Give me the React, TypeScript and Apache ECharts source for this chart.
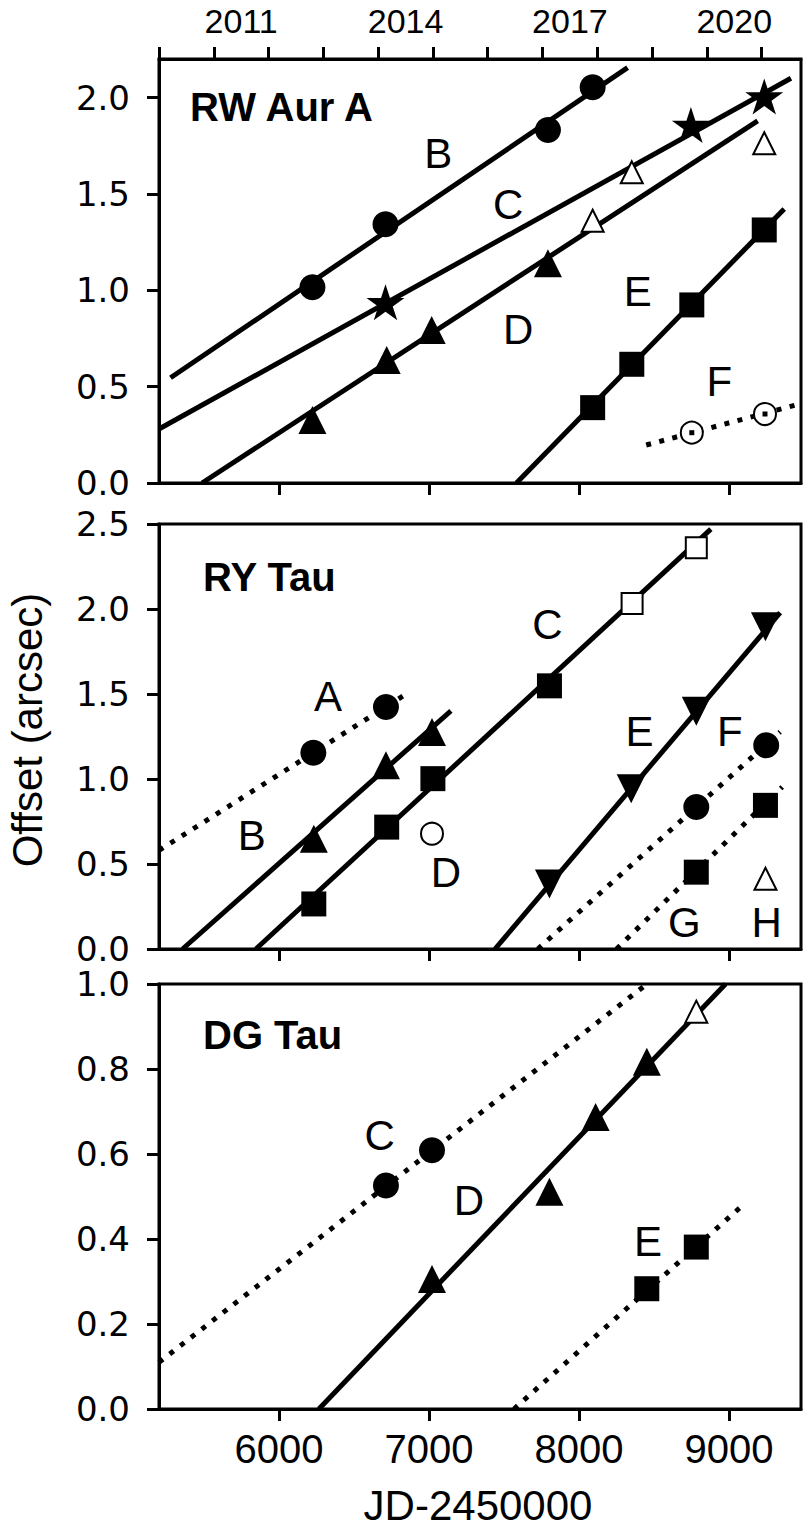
import React, { useEffect, useRef } from "react";
import * as echarts from "echarts";

// ---------- axes ----------
const X_MIN = 5200;
const X_MAX = 9480;
const X_TICKS = [6000, 7000, 8000, 9000];
const YEAR_AT_XMIN = 2010;
const DAYS_PER_YEAR = 365.25;
const YEAR_TICKS = [2010, 2011, 2012, 2013, 2014, 2015, 2016, 2017, 2018, 2019, 2020, 2021];
const YEAR_LABELS = [2011, 2014, 2017, 2020];
const Y_MAX = [2.2, 2.5, 1.0];
const Y_TICKS_1 = [0, 0.5, 1.0, 1.5, 2.0];
const Y_TICKS_2 = [0, 0.5, 1.0, 1.5, 2.0, 2.5];
const Y_TICKS_3 = [0, 0.2, 0.4, 0.6, 0.8, 1.0];
const PANEL_TITLES = ["RW Aur A", "RY Tau", "DG Tau"];

// ---------- RW Aur A ----------
const RW_B_PTS = [[6223, 1.016], [6710, 1.342], [7793, 1.832], [8091, 2.053]];
const RW_B_FIT = [[5277, 0.546], [8324, 2.155]];
const RW_C_PTS = [[6710, 0.938], [8746, 1.858], [9235, 2.005]];
const RW_C_FIT = [[5200, 0.28], [9413, 2.1]];
const RW_OPEN_TRI = [[8091, 1.361], [8352, 1.612], [9235, 1.763]];
const RW_D_PTS = [[6223, 0.327], [6718, 0.638], [7018, 0.794], [7793, 1.14]];
const RW_D_FIT = [[5487, 0], [9191, 1.879]];
const RW_E_PTS = [[8091, 0.391], [8352, 0.616], [8752, 0.924], [9235, 1.313]];
const RW_E_FIT = [[7583, 0], [9368, 1.422]];
const RW_F_PTS = [[8752, 0.261], [9240, 0.358]];
const RW_F_FIT = [[8448, 0.197], [9446, 0.405]];
const RW_LETTERS = [[7062, 1.711, "B"], [7527, 1.443, "C"], [7594, 0.794, "D"], [8392, 0.993, "E"], [8936, 0.529, "F"]];

// ---------- RY Tau ----------
const RY_A_PTS = [[6229, 1.155], [6713, 1.424]];
const RY_A_FIT = [[5200, 0.58], [6853, 1.503]];
const RY_B_PTS = [[6232, 0.648], [6713, 1.081], [7020, 1.277]];
const RY_B_FIT = [[5357, 0], [7146, 1.401]];
const RY_C_PTS = [[6232, 0.265], [6718, 0.717], [7026, 1.002], [7803, 1.548]];
const RY_C_OPEN = [[8354, 2.033], [8782, 2.361]];
const RY_C_FIT = [[5846, 0], [8879, 2.47]];
const RY_D_OPEN = [[7020, 0.678]];
const RY_E_PTS = [[7803, 0.383], [8348, 0.943], [8782, 1.399], [9243, 1.896]];
const RY_E_FIT = [[7440, 0], [9341, 1.978]];
const RY_F_PTS = [[8782, 0.835], [9248, 1.198]];
const RY_F_FIT = [[7725, 0], [9341, 1.277]];
const RY_G_PTS = [[8782, 0.452], [9243, 0.845]];
const RY_G_FIT = [[8250, 0], [9355, 0.953]];
const RY_H_OPEN = [[9243, 0.413]];
const RY_LETTERS = [[6327, 1.483, "A"], [5818, 0.668, "B"], [7789, 1.906, "C"], [7113, 0.452, "D"], [8404, 1.277, "E"], [9005, 1.277, "F"], [8703, 0.157, "G"], [9251, 0.157, "H"]];

// ---------- DG Tau ----------
const DG_C_PTS = [[6713, 0.526], [7020, 0.609]];
const DG_C_FIT = [[5200, 0.11], [8446, 0.998]];
const DG_D_PTS = [[7020, 0.306], [7803, 0.511], [8111, 0.687], [8452, 0.817]];
const DG_D_OPEN = [[8782, 0.935]];
const DG_D_FIT = [[6266, 0], [8977, 1.0]];
const DG_E_PTS = [[8452, 0.283], [8782, 0.381]];
const DG_E_FIT = [[7566, 0], [9103, 0.483]];
const DG_LETTERS = [[6671, 0.644, "C"], [7266, 0.491, "D"], [8460, 0.393, "E"]];

// ---------- layout / style ----------
const GRID_LEFT = 159;
const GRID_WIDTH = 642;
const GRIDS = [
  { top: 59, height: 424 },
  { top: 524, height: 425 },
  { top: 984, height: 425 },
];
const X_AXIS_OF_PANEL = [0, 2, 3];
const SANS = "'Liberation Sans', Arial, Helvetica, sans-serif";
const DEJAVU = "'DejaVu Sans', sans-serif";
const STAR =
  "path://M0,-1L0.2245,-0.309L0.951,-0.309L0.3633,0.118L0.5878,0.809L0,0.382L-0.5878,0.809L-0.3633,0.118L-0.951,-0.309L-0.2245,-0.309Z";
const DOWN_TRI = "path://M-1,-1L1,-1L0,1Z";

const solid = (extra: any = {}) => ({ color: "#000", opacity: 1, ...extra });
const hollow = { color: "#fff", borderColor: "#000", borderWidth: 2, opacity: 1 };

const MARKERS: Record<string, any> = {
  circle: { symbol: "circle", symbolSize: 26, itemStyle: solid() },
  square: { symbol: "rect", symbolSize: 25, itemStyle: solid() },
  triangle: { symbol: "triangle", symbolSize: 28, itemStyle: solid() },
  down: { symbol: DOWN_TRI, symbolSize: 29, itemStyle: solid() },
  star: { symbol: STAR, symbolSize: [38, 36], itemStyle: solid() },
  openTriangle: { symbol: "triangle", symbolSize: 22, itemStyle: hollow },
  openSquare: { symbol: "rect", symbolSize: 21, itemStyle: hollow },
  openCircle: { symbol: "circle", symbolSize: 22, itemStyle: hollow },
  dot: { symbol: "rect", symbolSize: 5, itemStyle: solid() },
};

function fit(panel: number, data: number[][], dotted: boolean) {
  return {
    type: "line",
    xAxisIndex: X_AXIS_OF_PANEL[panel],
    yAxisIndex: panel,
    data,
    symbol: "none",
    silent: true,
    z: 2,
    lineStyle: { color: "#000", opacity: 1, width: 5, type: dotted ? [5, 8.5] : "solid", cap: "butt" },
  };
}

function marks(panel: number, data: number[][], kind: string, z = 4) {
  return {
    type: "scatter",
    xAxisIndex: X_AXIS_OF_PANEL[panel],
    yAxisIndex: panel,
    data,
    silent: true,
    z,
    ...MARKERS[kind],
  };
}

function letters(panel: number, data: any[]) {
  return {
    type: "scatter",
    xAxisIndex: X_AXIS_OF_PANEL[panel],
    yAxisIndex: panel,
    data,
    silent: true,
    z: 5,
    symbol: "circle",
    symbolSize: 1,
    itemStyle: { color: "rgba(0,0,0,0)", opacity: 1 },
    label: {
      show: true,
      position: "inside",
      formatter: (p: any) => p.value[2],
      fontFamily: SANS,
      fontSize: 42,
      color: "#000",
      opacity: 1,
      textBorderWidth: 0,
    },
  };
}

const axisLine = { show: true, onZero: false, lineStyle: { color: "#000", width: 3 } };
const tickStyle = { color: "#000", width: 3 };

export default function App() {
  const ref = useRef<HTMLDivElement>(null);

  useEffect(() => {
    document.body.style.margin = "0";
    if (!ref.current) return;
    const chart = echarts.init(ref.current, undefined, { renderer: "svg" });

    const xAxes: any[] = [];
    const bottomX = (gridIndex: number, showLabels: boolean) => ({
      type: "value",
      gridIndex,
      position: "bottom",
      min: X_MIN,
      max: X_MAX,
      axisLine,
      axisTick: { show: true, inside: false, length: 12, lineStyle: tickStyle, customValues: X_TICKS },
      axisLabel: {
        show: showLabels,
        customValues: X_TICKS,
        formatter: (v: number) => String(Math.round(v)),
        fontFamily: SANS,
        fontSize: 40,
        color: "#000",
        margin: 20,
      },
      splitLine: { show: false },
    });
    xAxes.push(bottomX(0, false));
    xAxes.push({
      type: "value",
      gridIndex: 0,
      position: "top",
      min: YEAR_AT_XMIN,
      max: YEAR_AT_XMIN + (X_MAX - X_MIN) / DAYS_PER_YEAR,
      axisLine,
      axisTick: { show: true, inside: false, length: 12, lineStyle: tickStyle, customValues: YEAR_TICKS },
      axisLabel: {
        show: true,
        // year labels sit in the middle of each year
        customValues: YEAR_LABELS.map((y) => y + 0.5),
        formatter: (v: number) => String(Math.floor(v)),
        fontFamily: SANS,
        fontSize: 34,
        color: "#000",
        margin: 21,
      },
      splitLine: { show: false },
    });
    xAxes.push(bottomX(1, false));
    xAxes.push(bottomX(2, true));

    const yTicks = [Y_TICKS_1, Y_TICKS_2, Y_TICKS_3];
    const yAxes = [0, 1, 2].map((i) => ({
      type: "value",
      gridIndex: i,
      min: 0,
      max: Y_MAX[i],
      axisLine,
      axisTick: { show: true, inside: false, length: 12, lineStyle: tickStyle, customValues: yTicks[i] },
      axisLabel: {
        show: true,
        customValues: yTicks[i],
        formatter: (v: number) => v.toFixed(1),
        fontFamily: DEJAVU,
        fontSize: 34,
        lineHeight: 30,
        color: "#000",
        margin: 29,
      },
      splitLine: { show: false },
    }));

    const titleY = [107, 577, 1035];
    const titleX = [190, 203, 203];
    const graphic: any[] = PANEL_TITLES.map((t, i) => ({
      type: "text",
      x: titleX[i],
      y: titleY[i],
      silent: true,
      style: {
        text: t,
        fontFamily: SANS,
        fontWeight: "bold",
        fontSize: 40,
        fill: "#000",
        textAlign: "left",
        textVerticalAlign: "middle",
      },
    }));
    graphic.push({
      type: "text",
      x: 27,
      y: 730,
      rotation: Math.PI / 2,
      silent: true,
      style: {
        text: "Offset (arcsec)",
        fontFamily: SANS,
        fontSize: 42,
        fill: "#000",
        textAlign: "center",
        textVerticalAlign: "middle",
      },
    });
    graphic.push({
      type: "text",
      x: 478,
      y: 1505,
      silent: true,
      style: {
        text: "JD-2450000",
        fontFamily: SANS,
        fontSize: 42,
        fill: "#000",
        textAlign: "center",
        textVerticalAlign: "middle",
      },
    });

    const series: any[] = [
      // RW Aur A
      fit(0, RW_B_FIT, false),
      fit(0, RW_C_FIT, false),
      fit(0, RW_D_FIT, false),
      fit(0, RW_E_FIT, false),
      fit(0, RW_F_FIT, true),
      marks(0, RW_B_PTS, "circle"),
      marks(0, RW_C_PTS, "star"),
      marks(0, RW_OPEN_TRI, "openTriangle"),
      marks(0, RW_D_PTS, "triangle"),
      marks(0, RW_E_PTS, "square"),
      marks(0, RW_F_PTS, "openCircle"),
      marks(0, RW_F_PTS, "dot", 5),
      letters(0, RW_LETTERS),
      // RY Tau
      fit(1, RY_A_FIT, true),
      fit(1, RY_B_FIT, false),
      fit(1, RY_C_FIT, false),
      fit(1, RY_E_FIT, false),
      fit(1, RY_F_FIT, true),
      fit(1, RY_G_FIT, true),
      marks(1, RY_A_PTS, "circle"),
      marks(1, RY_B_PTS, "triangle"),
      marks(1, RY_C_PTS, "square"),
      marks(1, RY_C_OPEN, "openSquare"),
      marks(1, RY_D_OPEN, "openCircle"),
      marks(1, RY_E_PTS, "down"),
      marks(1, RY_F_PTS, "circle"),
      marks(1, RY_G_PTS, "square"),
      marks(1, RY_H_OPEN, "openTriangle"),
      letters(1, RY_LETTERS),
      // DG Tau
      fit(2, DG_C_FIT, true),
      fit(2, DG_D_FIT, false),
      fit(2, DG_E_FIT, true),
      marks(2, DG_C_PTS, "circle"),
      marks(2, DG_D_PTS, "triangle"),
      marks(2, DG_D_OPEN, "openTriangle"),
      marks(2, DG_E_PTS, "square"),
      letters(2, DG_LETTERS),
    ];

    chart.setOption({
      animation: false,
      backgroundColor: "#fff",
      grid: GRIDS.map((g) => ({
        left: GRID_LEFT,
        width: GRID_WIDTH,
        top: g.top,
        height: g.height,
        show: true,
        borderColor: "#000",
        borderWidth: 3,
        backgroundColor: "transparent",
      })),
      xAxis: xAxes,
      yAxis: yAxes,
      graphic,
      series,
    });

    return () => chart.dispose();
  }, []);

  return <div ref={ref} style={{ width: 810, height: 1530 }} />;
}
